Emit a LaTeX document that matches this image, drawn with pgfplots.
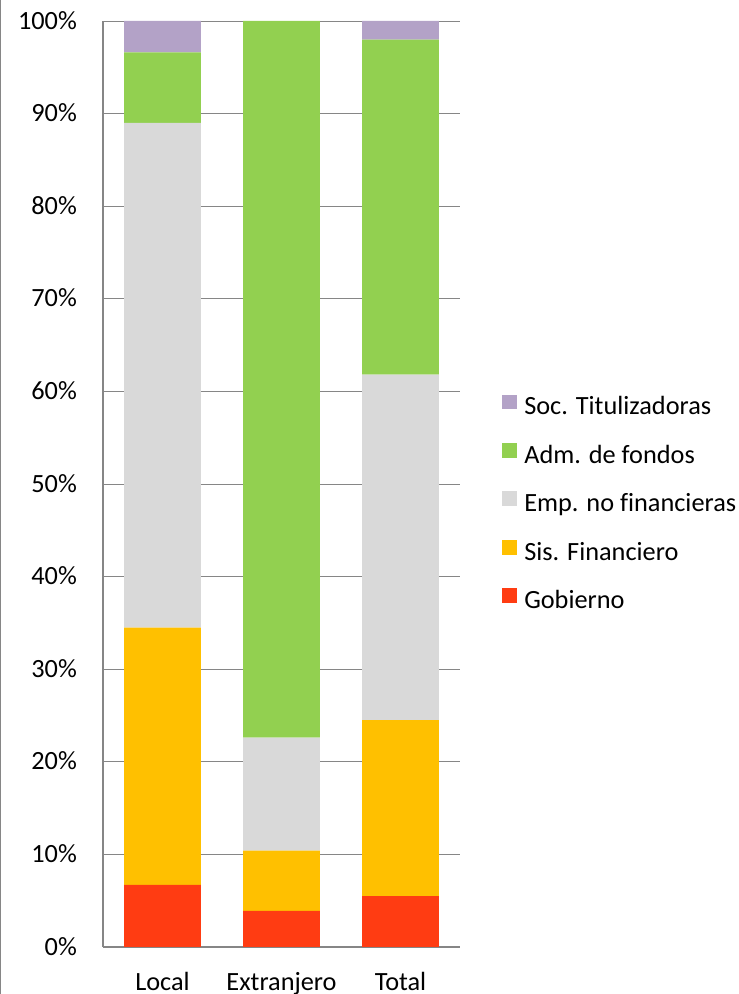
\documentclass[border=0pt]{standalone}
\usepackage{pgfplots}
\pgfplotsset{compat=1.18}
\usepackage{fontspec}
\setmainfont{Carlito}[Ligatures=NoCommon]
\definecolor{cGob}{HTML}{FF3C12}
\definecolor{cSis}{HTML}{FFC000}
\definecolor{cEmp}{HTML}{D9D9D9}
\definecolor{cAdm}{HTML}{92D050}
\definecolor{cSoc}{HTML}{B3A2C7}
\definecolor{cAx}{HTML}{868686}
\begin{document}
\begin{tikzpicture}
\useasboundingbox (0,0) rectangle (739bp,994bp);
\draw[cAx, line width=1.2bp] (0.6bp,0) -- (0.6bp,994bp);
\begin{axis}[
  at={(103bp,47bp)}, anchor=south west,
  scale only axis, width=357bp, height=926bp,
  ybar stacked, bar width=76.7bp,
  xmin=-0.5, xmax=2.5, ymin=0, ymax=100,
  xtick={0,1,2}, xticklabels={Local,Extranjero,Total},
  ytick={0,10,...,100},
  yticklabel={\pgfmathprintnumber{\tick}\%},
  /pgf/number format/assume math mode=true,
  ymajorgrids, grid style={cAx, line width=0.9bp},
  axis x line*=bottom, axis y line*=left,
  axis line style={cAx, line width=1.2bp, -},
  tick style={draw=none},
  every tick label/.append style={font=\fontsize{26.3bp}{31bp}\selectfont},
  xticklabel style={anchor=base, inner sep=0pt, yshift=-43.5bp},
  yticklabel style={anchor=base east, inner sep=0pt, xshift=-26bp, yshift=-8.1bp},
  legend cell align=left,
  reverse legend,
  legend style={draw=none, fill=none, inner sep=0pt, outer sep=0pt,
    at={(1.1176,0.5965)}, anchor=north west,
    font=\fontsize{26.3bp}{31bp}\selectfont,
    nodes={inner sep=0pt, text height=17bp, text depth=6bp},
    row sep=22.2bp, column sep=7.6bp},
  legend image code/.code={\fill[#1] (0bp,0bp) rectangle (14.7bp,14.7bp);},
]
\addplot[fill=cGob, draw=none] coordinates {(0,6.7) (1,3.9) (2,5.5)};
\addplot[fill=cSis, draw=none] coordinates {(0,27.8) (1,6.5) (2,19.0)};
\addplot[fill=cEmp, draw=none] coordinates {(0,54.5) (1,12.2) (2,37.3)};
\addplot[fill=cAdm, draw=none] coordinates {(0,7.6) (1,77.4) (2,36.2)};
\addplot[fill=cSoc, draw=none] coordinates {(0,3.4) (1,0) (2,2.0)};
\legend{Gobierno,Sis. Financiero,Emp. no financieras,Adm. de fondos,Soc. Titulizadoras}
\end{axis}
\end{tikzpicture}
\end{document}
